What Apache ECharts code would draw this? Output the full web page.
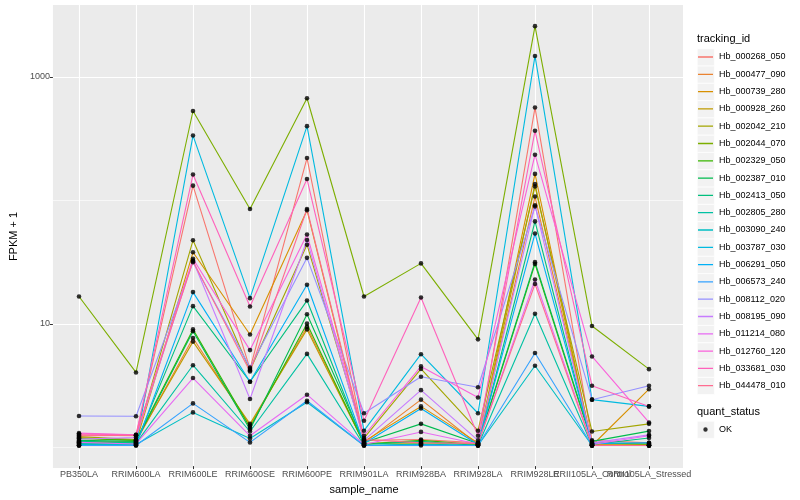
<!DOCTYPE html>
<html><head><meta charset="utf-8">
<script src="https://cdn.jsdelivr.net/npm/echarts@6/dist/echarts.min.js"></script>
<style>html,body{margin:0;padding:0;background:#fff}#c{width:800px;height:500px}</style>
</head><body><div id="c"></div><script>
const categories = ['PB350LA','RRIM600LA','RRIM600LE','RRIM600SE','RRIM600PE','RRIM901LA','RRIM928BA','RRIM928LA','RRIM928LE','RRII105LA_Control','RRII105LA_Stressed'];
const trackingIds = ['Hb_000268_050','Hb_000477_090','Hb_000739_280','Hb_000928_260','Hb_002042_210','Hb_002044_070','Hb_002329_050','Hb_002387_010','Hb_002413_050','Hb_002805_280','Hb_003090_240','Hb_003787_030','Hb_006291_050','Hb_006573_240','Hb_008112_020','Hb_008195_090','Hb_011214_080','Hb_012760_120','Hb_033681_030','Hb_044478_010'];
const colors = ['#F8766D','#EA8331','#D89000','#C09B00','#A3A500','#7CAE00','#39B600','#00BB4E','#00BF7D','#00C1A3','#00BFC4','#00BAE0','#00B0F6','#35A2FF','#9590FF','#C77CFF','#E76BF3','#FA62DB','#FF62BC','#FF6C91'];
const yMajorTicks = [10, 1000];
const yMinorTicks = [1, 100];

// FPKM + 1 per sample (categories order)
const hb_000268_050 = [1.22, 1.20, 130, 4.2, 218, 1.10, 1.12, 1.05, 561, 1.10, 1.05];
const hb_000477_090 = [1.07, 1.07, 7.5, 1.45, 9.2, 1.05, 2.36, 1.02, 106, 1.02, 1.0];
const hb_000739_280 = [1.05, 1.06, 37.3, 8.0, 82, 1.08, 2.08, 1.05, 162, 1.0, 2.87];
const hb_000928_260 = [1.16, 1.10, 7.0, 1.5, 8.8, 1.04, 1.05, 1.03, 134, 1.03, 1.02];
const hb_002042_210 = [1.18, 1.12, 46.7, 4.1, 43, 1.15, 4.2, 1.32, 128, 1.30, 1.50];
const hb_002044_070 = [16.3, 3.93, 526, 84, 668, 16.3, 30.3, 7.3, 2577, 9.37, 4.18];
const hb_002329_050 = [1.14, 1.10, 8.8, 1.4, 9.8, 1.03, 1.10, 1.02, 30, 1.05, 1.03];
const hb_002387_010 = [1.10, 1.08, 8.5, 1.35, 11.7, 1.06, 1.5, 1.04, 31, 1.08, 1.31];
const hb_002413_050 = [1.08, 1.05, 13.6, 3.3, 15.1, 1.02, 1.08, 1.0, 66.5, 1.02, 1.15];
const hb_002805_280 = [1.04, 1.04, 4.5, 1.3, 5.56, 1.0, 1.03, 1.0, 11.8, 1.0, 1.0];
const hb_003090_240 = [1.02, 1.02, 1.86, 1.14, 2.25, 1.0, 1.02, 1.0, 4.45, 1.0, 1.0];
const hb_003787_030 = [1.0, 1.01, 332, 15.8, 396, 1.32, 5.53, 1.83, 1475, 2.36, 2.08];
const hb_006291_050 = [1.0, 1.0, 17.7, 3.3, 20.3, 1.04, 2.0, 1.02, 53, 1.04, 1.05];
const hb_006573_240 = [1.0, 1.0, 2.2, 1.06, 2.31, 1.0, 1.0, 1.0, 5.66, 1.0, 1.0];
const hb_008112_020 = [1.74, 1.73, 31, 4.3, 33.6, 1.83, 3.62, 2.98, 88, 2.36, 3.06];
const hb_008195_090 = [1.13, 1.16, 32, 2.39, 47, 1.1, 2.82, 1.1, 90, 1.05, 1.22];
const hb_011214_080 = [1.06, 1.03, 3.54, 1.2, 2.59, 1.02, 1.29, 1.03, 22.4, 1.02, 1.2];
const hb_012760_120 = [1.26, 1.22, 33, 5.97, 52, 1.2, 4.4, 2.46, 232, 5.3, 1.54];
const hb_033681_030 = [1.24, 1.22, 160, 13.5, 147, 1.59, 16, 1.2, 363, 3.06, 2.08];
const hb_044478_010 = [1.2, 1.21, 31.5, 4.0, 84, 1.12, 1.05, 1.04, 20.6, 1.0, 1.0];

const seriesValues = [hb_000268_050, hb_000477_090, hb_000739_280, hb_000928_260, hb_002042_210, hb_002044_070, hb_002329_050, hb_002387_010, hb_002413_050, hb_002805_280, hb_003090_240, hb_003787_030, hb_006291_050, hb_006573_240, hb_008112_020, hb_008195_090, hb_011214_080, hb_012760_120, hb_033681_030, hb_044478_010];

const FONT = "'Liberation Sans', Arial, sans-serif";
const Y_MIN = 0.68, Y_MAX = 3830;

const lineSeries = trackingIds.map((id, i) => ({
  name: id, type: 'line', xAxisIndex: 1, yAxisIndex: 2,
  data: seriesValues[i], showSymbol: false, symbol: 'none', clip: false,
  itemStyle: { color: colors[i] }, lineStyle: { width: 1.1, color: colors[i] }, z: 2, silent: true
}));
const okPoints = [];
seriesValues.forEach(arr => arr.forEach((v, j) => okPoints.push([j, v])));
const pointSeries = {
  name: 'OK', type: 'scatter', xAxisIndex: 1, yAxisIndex: 2, data: okPoints,
  symbol: 'circle', symbolSize: 4.6, itemStyle: { color: '#000' }, z: 5, clip: false, silent: true
};

// legend key backgrounds
const LEG_LEFT = 697, LEG_TOP = 48.5, KEY = 17, GAP = 0.3;
const keyRects = trackingIds.map((id, i) => ({
  type: 'rect', left: LEG_LEFT, top: LEG_TOP + i * (KEY + GAP), z: 0,
  shape: { width: KEY, height: KEY }, style: { fill: '#F2F2F2', stroke: '#fff', lineWidth: 0.6 }
}));
keyRects.push({ type: 'rect', left: LEG_LEFT, top: 421, z: 0, shape: { width: KEY, height: KEY }, style: { fill: '#F2F2F2', stroke: '#fff', lineWidth: 0.6 } });

const lineIcon = 'path://M0,0h0.01v0.01H0z M16.99,16.99h0.01v0.01h-0.01z M1,7.85h15v1.3H1z';
const dotIcon = 'path://M0,0h0.01v0.01H0z M16.99,16.99h0.01v0.01h-0.01z M6.3,8.5a2.2,2.2 0 1,0 4.4,0a2.2,2.2 0 1,0 -4.4,0z';

const legendData = trackingIds.map((id, i) => ({ name: id, itemStyle: { color: colors[i], borderWidth: 0 } }));

const chart = echarts.init(document.getElementById('c'), null, { renderer: 'canvas' });
chart.setOption({
  animation: false,
  backgroundColor: '#fff',
  title: [
    { text: 'tracking_id', left: 697, top: 33, padding: 0, textStyle: { fontSize: 11, fontWeight: 'normal', color: '#000', fontFamily: FONT } },
    { text: 'quant_status', left: 697, top: 406, padding: 0, textStyle: { fontSize: 11, fontWeight: 'normal', color: '#000', fontFamily: FONT } }
  ],
  graphic: keyRects,
  legend: [
    { data: legendData, orient: 'vertical', left: LEG_LEFT, top: LEG_TOP, padding: 0, itemWidth: KEY, itemHeight: KEY, itemGap: GAP,
      icon: lineIcon, selectedMode: false, textStyle: { fontSize: 9, color: '#000', fontFamily: FONT } },
    { data: [{ name: 'OK', itemStyle: { color: '#000', borderWidth: 0 } }], orient: 'vertical', left: LEG_LEFT, top: 421, padding: 0, itemWidth: KEY, itemHeight: KEY,
      icon: dotIcon, selectedMode: false, textStyle: { fontSize: 9, color: '#000', fontFamily: FONT } }
  ],
  grid: [
    { left: 45, right: 117, top: 5, bottom: 32, show: true, backgroundColor: '#EBEBEB', borderWidth: 0 },
    { left: 79, right: 151, top: 5, bottom: 32, show: false }
  ],
  xAxis: [
    { gridIndex: 0, type: 'value', min: 0, max: 1, show: false },
    { gridIndex: 1, type: 'category', data: categories, boundaryGap: false,
      axisLine: { show: false },
      axisTick: { show: true, length: 3, lineStyle: { color: '#333', width: 1 } },
      axisLabel: { interval: 0, color: '#4D4D4D', fontSize: 9, margin: 4, fontFamily: FONT },
      splitLine: { show: true, lineStyle: { color: '#fff', width: 1.1 } },
      name: 'sample_name', nameLocation: 'middle', nameGap: 13,
      nameTextStyle: { fontSize: 11, color: '#000', fontFamily: FONT } }
  ],
  yAxis: [
    { gridIndex: 0, type: 'log', logBase: 10, min: Y_MIN, max: Y_MAX,
      axisLine: { show: false },
      axisTick: { show: true, length: 3, customValues: yMajorTicks, lineStyle: { color: '#333', width: 1 } },
      axisLabel: { customValues: yMajorTicks, color: '#4D4D4D', fontSize: 9, margin: 3, fontFamily: FONT, formatter: v => String(Math.round(v)) },
      splitLine: { show: true, lineStyle: { color: '#fff', width: 1.1 } },
      name: 'FPKM + 1', nameLocation: 'middle', nameGap: 29,
      nameTextStyle: { fontSize: 11, color: '#000', fontFamily: FONT } },
    { gridIndex: 0, type: 'log', logBase: 10, min: Y_MIN, max: Y_MAX, position: 'left',
      axisLine: { show: false },
      axisTick: { show: false, customValues: yMinorTicks },
      axisLabel: { show: false, customValues: yMinorTicks },
      splitLine: { show: true, lineStyle: { color: '#fff', width: 0.6 } } },
    { gridIndex: 1, type: 'log', logBase: 10, min: Y_MIN, max: Y_MAX, show: false,
      splitLine: { show: false } }
  ],
  series: lineSeries.concat([pointSeries])
});
</script></body></html>
